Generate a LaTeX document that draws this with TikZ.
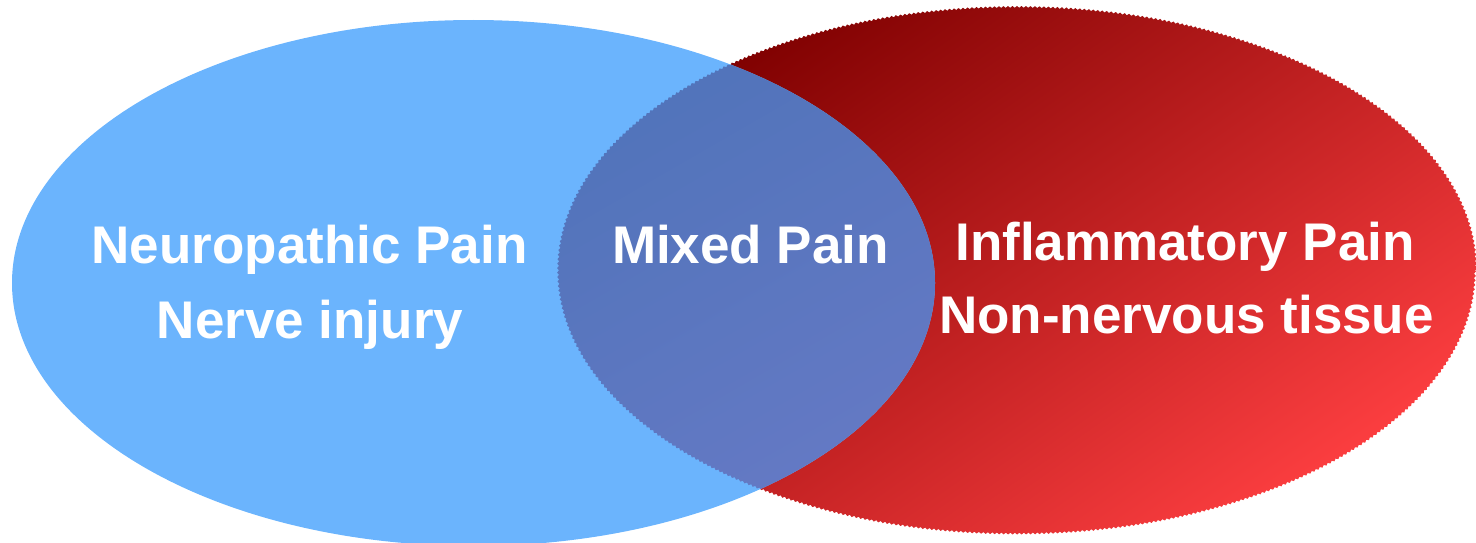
\documentclass[tikz,border=0pt]{standalone}
\usepackage{fontspec}
\setmainfont{Liberation Sans}
\usetikzlibrary{decorations.pathmorphing}
\definecolor{bluefill}{HTML}{6BB4FD}
\definecolor{reddark}{HTML}{7E0000}
\definecolor{redlight}{HTML}{FC3E40}
\definecolor{mixtop}{HTML}{4570B4}
\definecolor{mixbot}{HTML}{6479C4}
\tikzset{
  label text/.style={text=white, font=\fontsize{53}{60}\selectfont\bfseries, anchor=base, inner sep=0pt},
  jagged/.style={decorate, decoration={snake, segment length=4.5pt, amplitude=0.9pt}},
}
\begin{document}
\begin{tikzpicture}[x=1pt,y=-1pt]
\useasboundingbox (0,0) rectangle (1476,543);
% red ellipse (jagged edge, gradient)
\shade[jagged, top color=reddark, bottom color=redlight, shading angle=35]
  (1015.5,270) ellipse [x radius=459.5, y radius=263];
% blue ellipse
\fill[bluefill] (473.5,283) ellipse [x radius=461.5, y radius=263];
% overlap
\begin{scope}
  \clip[jagged] (1015.5,270) ellipse [x radius=459.5, y radius=263];
  \shade[top color=mixtop, bottom color=mixbot, shading angle=30]
    (473.5,283) ellipse [x radius=461.5, y radius=263];
\end{scope}
% texts
\node[label text] (np) at (309.5,263) {Neuropathic Pain};
\node[label text] (ni) at (310,338) {Nerve injury};
\node[label text] (mp) at (750.5,263) {Mixed Pain};
\node[label text] (ip) at (1185,260) {Inflammatory Pain};
\node[label text] (nt) at (1186.5,333) {Non-nervous tissue};
\end{tikzpicture}
\end{document}
